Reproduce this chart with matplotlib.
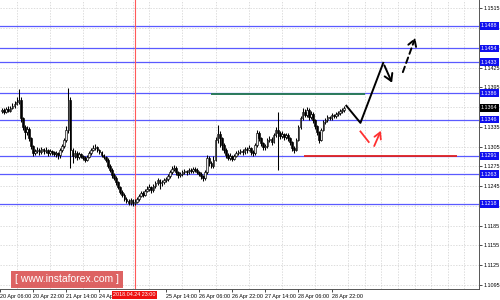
import matplotlib
matplotlib.use("Agg")
import matplotlib.pyplot as plt
import matplotlib.transforms as mtransforms
import numpy as np

plt.rcParams["font.family"] = ["Liberation Sans", "DejaVu Sans"]

# H1 candles, prices in pips above 1.1000, first candle at bar 1
first_open = 359
closes = [361, 358, 362, 359, 364, 367, 370, 373, 376, 348,
          335, 327, 332, 318, 306, 295, 298, 300, 297, 301,
          298, 300, 295, 298, 297, 294, 295, 292, 300, 306,
          315, 330, 376, 300, 291, 295, 289, 294, 291, 288,
          285, 289, 295, 300, 303, 304, 300, 297, 292, 289,
          285, 276, 270, 262, 257, 251, 244, 236, 232, 226,
          222, 219, 224, 219, 221, 226, 230, 235, 232, 238,
          241, 244, 239, 245, 250, 254, 250, 251, 254, 256,
          260, 266, 271, 273, 266, 262, 264, 266, 268, 266,
          270, 268, 271, 270, 266, 264, 260, 257, 266, 288,
          280, 276, 285, 315, 324, 318, 307, 300, 292, 288,
          291, 286, 291, 295, 297, 298, 297, 301, 300, 303,
          297, 295, 307, 326, 318, 310, 304, 306, 315, 317,
          312, 323, 330, 326, 321, 324, 319, 323, 318, 312,
          303, 300, 315, 335, 348, 358, 353, 361, 350, 355,
          345, 336, 327, 315, 330, 342, 345, 350, 349, 353,
          352, 355, 356, 359, 361, 364]
highs = [364, 363, 365, 366, 367, 371, 374, 380, 392, 380,
         350, 338, 336, 334, 320, 308, 302, 305, 303, 304,
         303, 304, 302, 301, 300, 299, 298, 297, 303, 309,
         318, 336, 394, 380, 303, 300, 298, 297, 296, 293,
         290, 292, 298, 303, 307, 309, 306, 302, 299, 294,
         291, 287, 279, 272, 265, 260, 253, 246, 239, 234,
         229, 225, 227, 226, 225, 229, 233, 238, 237, 241,
         245, 248, 246, 248, 253, 258, 256, 255, 257, 259,
         263, 270, 275, 277, 275, 268, 267, 270, 271, 270,
         273, 272, 274, 274, 272, 268, 266, 262, 270, 292,
         290, 283, 290, 320, 338, 328, 320, 310, 303, 295,
         295, 293, 294, 298, 300, 302, 301, 304, 304, 307,
         305, 300, 310, 330, 328, 320, 312, 309, 318, 321,
         319, 326, 334, 358, 329, 328, 326, 326, 325, 320,
         314, 306, 318, 338, 352, 364, 362, 365, 363, 359,
         357, 347, 338, 329, 333, 345, 348, 353, 352, 356,
         355, 358, 359, 362, 364, 366]
lows = [356, 355, 356, 357, 357, 362, 364, 368, 370, 343,
        330, 316, 322, 313, 302, 291, 292, 295, 293, 294,
        294, 295, 291, 292, 293, 290, 289, 286, 288, 297,
        303, 312, 326, 273, 280, 287, 285, 286, 287, 284,
        282, 283, 287, 293, 298, 300, 297, 294, 289, 286,
        282, 272, 266, 258, 254, 247, 240, 233, 229, 223,
        219, 216, 217, 215, 216, 219, 223, 228, 229, 230,
        236, 238, 235, 236, 242, 247, 241, 246, 248, 251,
        253, 258, 263, 268, 262, 258, 259, 261, 263, 262,
        263, 265, 265, 266, 263, 260, 256, 253, 255, 264,
        276, 272, 273, 283, 310, 305, 300, 295, 288, 284,
        285, 283, 284, 289, 292, 294, 293, 294, 296, 298,
        293, 290, 293, 305, 314, 306, 300, 300, 303, 312,
        308, 310, 320, 270, 317, 318, 315, 316, 314, 308,
        299, 296, 298, 313, 332, 345, 350, 350, 346, 347,
        341, 332, 322, 310, 313, 328, 339, 342, 345, 346,
        348, 349, 352, 353, 356, 358]

blue_levels = [1.1488, 1.1454, 1.1433, 1.1386, 1.1346, 1.1291, 1.1263, 1.1218]
current_price = 1.1364
green_level, green_from, green_to = 1.1385, 101.7, 176.3
red_level, red_from, red_to = 1.1290, 146.5, 220.5

tick_bars = [0, 16, 32, 48, 80, 96, 112, 128, 144, 160]
tick_labels = ["20 Apr 06:00", "20 Apr 22:00", "21 Apr 14:00", "24 Apr 06:00",
               "25 Apr 14:00", "26 Apr 06:00", "26 Apr 22:00", "27 Apr 14:00",
               "28 Apr 06:00", "28 Apr 22:00"]
marker_bar, marker_label = 65, "2018.04.24 23:00"
price_ticks = [1.1095, 1.1125, 1.1155, 1.1185, 1.1215, 1.1245, 1.1275, 1.1305,
               1.1335, 1.1365, 1.1395, 1.1425, 1.1455, 1.1485, 1.1515]

# forecast sketch (bar, price)
main_x = [167.1, 173.9, 184.9, 189.7]
main_y = [1.1367, 1.1341, 1.1432, 1.1398]
dash_x = [193.9, 200.8]
dash_y = [1.1414, 1.1474]
alt_x = [173.9, 177.9, 180.0, 184.3]
alt_y = [1.1328, 1.1312, 1.1302, 1.1333]

to_price = lambda p: 1.1 + np.asarray(p) / 1e4
c = to_price(closes)
o = to_price([first_open] + closes[:-1])
h = to_price(highs)
l = to_price(lows)
x = np.arange(1, len(closes) + 1)

fs = 3.9

fig = plt.figure(figsize=(5, 3), dpi=100)
ax = fig.add_axes([0, 11 / 300, 479 / 500, 289 / 300])
ax.set_xlim(0.79, 231.1)
ax.set_ylim(1.10890, 1.15274)

ax.set_xticks(np.arange(0, 232, 8), minor=True)
ax.set_yticks(price_ticks)
ax.grid(True, which="minor", axis="x", color="#cfcfcf", ls=(0, (2, 2)), lw=0.5)
ax.grid(True, which="major", axis="y", color="#cfcfcf", ls=(0, (2, 2)), lw=0.5)
ax.set_axisbelow(True)

for lev in blue_levels:
    ax.axhline(lev, color="#5a5aff", lw=0.9, zorder=1)
ax.axvline(marker_bar, color="#ff5a5a", lw=0.8, zorder=1)
ax.hlines(green_level, green_from, green_to, color="#2a7a5a", lw=1.4, zorder=3)
ax.hlines(red_level, red_from, red_to, color="#e02020", lw=1.3, zorder=3)

# candles
ax.vlines(x, l, h, color="black", lw=0.75, zorder=4)
up = c >= o
ax.bar(x[up], (c - o)[up], bottom=o[up], width=0.8, color="#e8e8e8",
       edgecolor="black", lw=0.45, zorder=5)
ax.bar(x[~up], (o - c)[~up], bottom=c[~up], width=0.8, color="black",
       edgecolor="black", lw=0.45, zorder=5)

# forecast paths
ax.plot(main_x[:-1], main_y[:-1], color="black", lw=1.4, zorder=6)
ax.annotate("", xy=(main_x[-1], main_y[-1]), xytext=(main_x[-2], main_y[-2]),
            arrowprops=dict(arrowstyle="->,head_length=0.5,head_width=0.3",
                            color="black", lw=1.4), zorder=6)
ax.annotate("", xy=(dash_x[1], dash_y[1]), xytext=(dash_x[0], dash_y[0]),
            arrowprops=dict(arrowstyle="->,head_length=0.5,head_width=0.3",
                            color="black", lw=1.4, ls=(0, (3, 2))), zorder=6)
ax.plot(alt_x[:2], alt_y[:2], color="#ff3030", lw=1.3, zorder=6)
ax.annotate("", xy=(alt_x[3], alt_y[3]), xytext=(alt_x[2], alt_y[2]),
            arrowprops=dict(arrowstyle="->,head_length=0.45,head_width=0.25",
                            color="#ff3030", lw=1.3), zorder=6)

# axes look
for s in ["top", "left"]:
    ax.spines[s].set_visible(False)
ax.spines["right"].set_color("#555555")
ax.spines["bottom"].set_color("#555555")
ax.spines["right"].set_linewidth(0.7)
ax.spines["bottom"].set_linewidth(0.7)
ax.yaxis.tick_right()
ax.set_yticklabels([f"{v:.4f}" for v in price_ticks], fontsize=fs)
ax.tick_params(axis="y", length=2, pad=1.5, width=0.5)
ax.set_xticks(tick_bars)
ax.set_xticklabels(tick_labels, fontsize=fs, ha="left")
ax.tick_params(axis="x", length=2, pad=1.5, width=0.5)
ax.tick_params(which="minor", length=0)

ytr = mtransforms.blended_transform_factory(ax.transAxes, ax.transData)
for lev in blue_levels:
    ax.text(1.004, lev, f"{lev:.4f}", transform=ytr, fontsize=fs, color="white",
            va="center", ha="left", clip_on=False, zorder=10,
            bbox=dict(boxstyle="square,pad=0.25", fc="#1010ee", ec="none"))
ax.text(1.004, current_price, f"{current_price:.4f}", transform=ytr, fontsize=fs,
        color="white", va="center", ha="left", clip_on=False, zorder=10,
        bbox=dict(boxstyle="square,pad=0.25", fc="black", ec="none"))

xtr = mtransforms.blended_transform_factory(ax.transData, ax.transAxes)
ax.text(marker_bar, -0.012, marker_label, transform=xtr, fontsize=fs, color="white",
        va="top", ha="center", clip_on=False, zorder=10,
        bbox=dict(boxstyle="square,pad=0.2", fc="#ee1111", ec="none"))

ax.text(0.14, 0.033, "[ www.instaforex.com ]", transform=ax.transAxes,
        fontsize=7.5, color="white", va="center", ha="center", zorder=11,
        bbox=dict(boxstyle="square,pad=0.35", fc="#d84848", ec="none", alpha=0.85))

fig.savefig("out.png", dpi=100, facecolor="white")
